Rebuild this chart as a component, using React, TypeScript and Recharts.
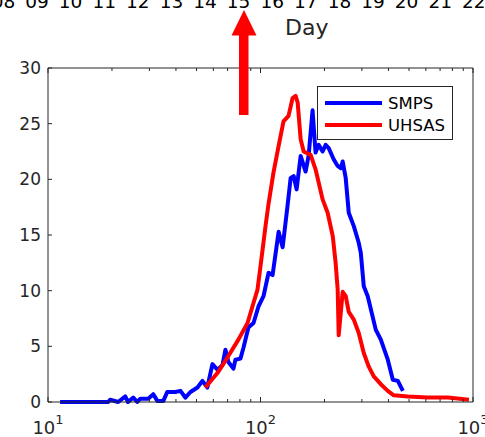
import React from 'react';
import { LineChart, Line, XAxis, YAxis, Legend } from 'recharts';

// particle diameter (nm) and dN/dlogDp
const smpsDiameter = [
  11.4, 15.8, 19.2, 19.6, 21.4, 23.1, 23.8, 25.2, 26.3, 27.2, 29.6, 31.3, 32.7, 34.9,
  36.4, 39.7, 42.0, 44.3, 46.8, 50.5, 53.3, 56.2, 59.4, 62.7, 66.2, 68.4, 70.6, 74.6,
  76.2, 80.5, 83.2, 87.7, 92.7, 97.9, 103.3, 109.1, 114.0, 121.7, 127.1, 134.0, 138.6,
  143.2, 147.9, 154.5, 163.0, 168.4, 175.8, 181.6, 187.8, 196.0, 202.6, 209.4, 220.9,
  230.8, 238.4, 243.7, 251.8, 260.2, 274.8, 289.9, 296.5, 306.2, 319.6, 348.6, 368.3,
  397.2, 419.5, 442.9, 467.8,
];
const smpsConc = [
  0, 0, 0, 0.2, 0, 0.5, 0, 0.4, 0, 0.3, 0.3, 0.7, 0.1, 0.1,
  0.9, 0.9, 1.0, 0.4, 0.9, 1.3, 1.9, 1.3, 3.4, 2.9, 3.3, 4.7, 3.6, 3.0,
  3.8, 3.9, 4.9, 6.7, 7.1, 8.6, 9.5, 11.6, 11.4, 15.3, 13.9, 17.6, 20.1,
  20.3, 19.1, 22.1, 20.7, 22.1, 26.2, 22.4, 23.1, 22.5, 23.1, 22.8, 21.8,
  21.2, 21.0, 21.6, 20.1, 17.0, 15.8, 14.3, 13.4, 10.4, 9.5, 6.5, 5.6,
  3.8, 2.0, 1.9, 1.0,
];

const uhsasDiameter = [
  55.0, 62.7, 69.9, 78.7, 86.9, 91.7, 96.8, 100.0, 105.6, 109.1, 115.1, 121.7, 128.3,
  135.5, 141.6, 146.3, 149.6, 154.5, 159.7, 172.2, 181.6, 196.0, 207.0, 218.8, 225.7,
  230.8, 233.3, 243.7, 251.8, 260.2, 274.8, 289.9, 306.2, 322.8, 341.2, 368.3, 397.2,
  423.6, 493.3, 613.4, 762.1, 957.2,
];
const uhsasConc = [
  1.3, 2.6, 4.0, 5.6, 7.1, 8.6, 10.1, 12.2, 15.8, 17.8, 20.6, 23.0, 25.2,
  25.7, 27.3, 27.5, 26.9, 23.6, 22.5, 22.2, 20.9, 18.2, 17.0, 14.9, 12.5,
  10.1, 6.0, 9.9, 9.5, 8.1, 7.4, 6.2, 4.4, 3.2, 2.3, 1.6, 1.0,
  0.6, 0.5, 0.4, 0.4, 0.2,
];

const xTicks = [10, 20, 30, 40, 50, 60, 70, 80, 90, 100, 200, 300, 400, 500, 600, 700, 800, 900, 1000];
const yTicks = [0, 5, 10, 15, 20, 25, 30];
const dayLabels = ['08', '09', '10', '11', '12', '13', '14', '15', '16', '17', '18', '19', '20', '21', '22'];

const smpsData = smpsDiameter.map((d, i) => ({ d, v: smpsConc[i] }));
const uhsasData = uhsasDiameter.map((d, i) => ({ d, v: uhsasConc[i] }));

const AXIS = '#262626';
const FONT = '"DejaVu Sans", sans-serif';

const isDecade = (v: number) => {
  const e = Math.round(Math.log10(v));
  return Math.abs(Math.pow(10, e) - v) < 1e-6;
};

const BottomTick = (props: any) => {
  const { x, y, payload } = props;
  const v = payload.value;
  const major = isDecade(v);
  return (
    <g>
      <line x1={x} y1={y} x2={x} y2={y - (major ? 5 : 3)} stroke={AXIS} />
      {major && (
        <text x={x} y={y + 32} textAnchor="middle" fontSize={18} fill={AXIS} fontFamily={FONT}>
          <tspan>10</tspan>
          <tspan dy={-10} fontSize={13}>{Math.round(Math.log10(v))}</tspan>
        </text>
      )}
    </g>
  );
};

const TopTick = (props: any) => {
  const { x, y, payload } = props;
  const major = isDecade(payload.value);
  return <line x1={x} y1={y} x2={x} y2={y + (major ? 5 : 3)} stroke={AXIS} />;
};

const LeftTick = (props: any) => {
  const { x, y, payload } = props;
  return (
    <g>
      <line x1={x} y1={y} x2={x + 4} y2={y} stroke={AXIS} />
      <text x={x - 7} y={y} dy="0.36em" textAnchor="end" fontSize={17} fill={AXIS} fontFamily={FONT}>
        {payload.value}
      </text>
    </g>
  );
};

const RightTick = (props: any) => {
  const { x, y } = props;
  return <line x1={x} y1={y} x2={x - 4} y2={y} stroke={AXIS} />;
};

const LegendBox = (props: any) => {
  const { payload } = props;
  return (
    <div
      style={{
        width: 136,
        height: 54,
        boxSizing: 'border-box',
        border: `1px solid ${AXIS}`,
        background: '#fff',
      }}
    >
      <svg width={134} height={52}>
        {(payload || []).map((p: any, i: number) => (
          <g key={p.value}>
            <line x1={7} x2={64} y1={16 + i * 22} y2={16 + i * 22} stroke={p.color} strokeWidth={4} />
            <text x={70} y={16 + i * 22} dy="0.36em" fontSize={16.5} fill="#000" fontFamily={FONT}>
              {p.value}
            </text>
          </g>
        ))}
      </svg>
    </div>
  );
};

export default function App() {
  return (
    <div style={{ position: 'absolute', left: 0, top: 0, width: 485, height: 437, background: '#fff' }}>
      <LineChart width={485} height={437} margin={{ top: 67, right: 11, bottom: 0, left: 8 }}>
        <XAxis
          xAxisId="bottom"
          type="number"
          dataKey="d"
          scale="log"
          domain={[10, 1000]}
          allowDataOverflow
          ticks={xTicks}
          interval={0}
          height={35}
          tickSize={0}
          tickMargin={0}
          axisLine={{ stroke: AXIS }}
          tick={BottomTick}
        />
        <XAxis
          xAxisId="top"
          orientation="top"
          type="number"
          dataKey="d"
          scale="log"
          domain={[10, 1000]}
          allowDataOverflow
          ticks={xTicks}
          interval={0}
          height={1}
          tickSize={0}
          tickMargin={0}
          axisLine={{ stroke: AXIS }}
          tick={TopTick}
        />
        <YAxis
          yAxisId="left"
          type="number"
          domain={[0, 30]}
          ticks={yTicks}
          interval={0}
          width={40}
          tickSize={0}
          tickMargin={0}
          axisLine={{ stroke: AXIS }}
          tick={LeftTick}
        />
        <YAxis
          yAxisId="right"
          orientation="right"
          type="number"
          domain={[0, 30]}
          ticks={yTicks}
          interval={0}
          width={1}
          tickSize={0}
          tickMargin={0}
          axisLine={{ stroke: AXIS }}
          tick={RightTick}
        />
        <Legend
          layout="horizontal"
          verticalAlign="middle"
          align="center"
          wrapperStyle={{ position: 'absolute', left: 317, top: 86, width: 136, height: 54 }}
          content={LegendBox}
        />
        <Line
          data={smpsData}
          xAxisId="bottom"
          yAxisId="left"
          dataKey="v"
          name="SMPS"
          type="linear"
          stroke="#0000ff"
          strokeWidth={4}
          strokeLinejoin="round"
          dot={false}
          isAnimationActive={false}
        />
        <Line
          data={uhsasData}
          xAxisId="bottom"
          yAxisId="left"
          dataKey="v"
          name="UHSAS"
          type="linear"
          stroke="#ff0000"
          strokeWidth={4}
          strokeLinejoin="round"
          dot={false}
          isAnimationActive={false}
        />
      </LineChart>
      <svg
        width={485}
        height={437}
        style={{ position: 'absolute', left: 0, top: 0, pointerEvents: 'none' }}
      >
        {dayLabels.map((d, i) => (
          <text key={d} x={3.4 + i * 33.6} y={7.5} textAnchor="middle" fontSize={18.5} fill="#000" fontFamily={FONT}>
            {d}
          </text>
        ))}
        <text x={285} y={34.5} fontSize={22} fill={AXIS} fontFamily={FONT}>
          Day
        </text>
        <polygon points="244,10 231.5,35.5 256.5,35.5" fill="#ff0000" />
        <rect x={239} y={35} width={9.5} height={80} fill="#ff0000" />
      </svg>
    </div>
  );
}
